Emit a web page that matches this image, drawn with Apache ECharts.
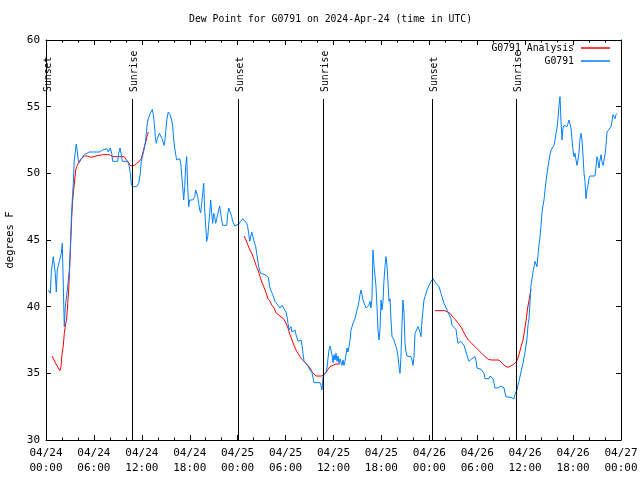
<!DOCTYPE html>
<html>
<head>
<meta charset="utf-8">
<script src="https://cdn.jsdelivr.net/npm/echarts@6/dist/echarts.min.js"></script>
<style>html,body{margin:0;padding:0;background:#fff}#c{width:640px;height:480px}</style>
</head>
<body>
<div id="c"></div>
<script>
// hours since 2024-04-24 00:00 UTC, dew point in degrees F
var obsData = [
[0.29,41.25],[0.54,41.0],[0.66,42.6],[0.91,43.75],[1.04,43.6],[1.16,42.5],[1.29,41.1],[1.41,42.75],[1.67,43.4],[1.92,44.0],[2.04,44.75],[2.17,41.5],[2.29,38.5],[2.42,40.0],[2.67,41.25],[2.92,42.75],[3.04,44.25],[3.17,46.5],[3.29,48.0],[3.42,49.25],[3.54,51.0],[3.67,51.1],[3.79,52.2],[3.92,51.6],[4.04,51.0],[4.17,50.8],[4.42,51.1],[4.80,51.4],[5.42,51.6],[5.85,51.6],[6.67,51.6],[6.80,51.5],[7.10,51.75],[7.30,51.9],[7.64,51.85],[7.80,51.6],[8.05,51.9],[8.23,51.5],[8.35,50.9],[8.98,50.9],[9.10,51.5],[9.27,51.9],[9.43,51.4],[9.55,50.9],[10.23,50.9],[10.43,50.5],[10.56,50.0],[10.68,49.25],[10.81,49.0],[11.36,49.0],[11.61,49.25],[11.81,50.0],[11.93,50.9],[12.18,51.5],[12.43,52.25],[12.56,53.0],[12.68,53.75],[12.81,54.1],[12.94,54.0],[13.06,54.5],[13.31,54.8],[13.44,54.4],[13.56,53.75],[13.69,52.75],[13.81,52.25],[13.94,52.6],[14.19,53.0],
[14.53,52.6],[14.78,52.1],[14.90,52.5],[15.03,53.4],[15.15,54.1],[15.31,54.6],[15.53,54.4],[15.74,54.0],[15.87,53.5],[15.99,52.5],[16.12,51.9],[16.24,51.4],[16.37,51.0],[16.49,50.9],[16.62,51.0],[16.74,51.1],[16.87,50.75],[16.99,49.9],[17.12,49.0],[17.24,48.0],[17.37,49.0],[17.49,50.5],[17.62,51.25],[17.74,49.0],[17.87,47.5],[17.99,48.0],[18.12,48.1],[18.37,48.0],[18.62,48.25],[18.75,48.75],[18.87,48.8],[19.00,48.25],[19.12,47.75],[19.25,47.25],[19.37,47.05],[19.50,47.75],[19.62,48.5],[19.75,49.25],[19.87,47.25],[20.00,46.0],[20.12,44.9],[20.25,45.25],[20.37,46.1],[20.50,47.0],[20.62,48.0],[20.75,47.0],[20.87,46.25],[21.00,47.0],[21.12,46.75],[21.25,46.25],[21.37,46.6],[21.50,46.9],[21.62,47.25],[21.75,47.55],[21.87,47.0],[22.00,46.5],[22.13,46.1],[22.63,46.1],[22.75,46.9],[22.88,47.4],[23.13,47.4],[23.25,46.75],[23.38,46.4],[23.63,46.05],[23.88,46.05],[24.13,46.2],[24.38,46.4],[24.63,46.6],[24.88,46.5],[25.13,46.25],[25.25,46.0],[25.38,45.5],[25.51,44.9],[25.63,45.25],[25.76,45.6],[25.88,45.5],[26.01,45.0],[26.26,44.5],[26.38,44.0],[26.51,43.5],[26.63,43.0],[26.88,42.5],[27.42,42.4],[27.84,42.2],[28.01,41.5],[28.14,41.25],[28.26,41.4],[28.39,40.9],
[28.55,40.9],[28.67,40.4],[29.05,40.1],[29.30,39.9],[29.55,40.1],[29.80,40.1],[30.05,39.6],[30.18,39.25],[30.30,38.75],[30.43,38.25],[30.55,38.4],[30.68,38.5],[30.80,38.1],[31.05,38.1],[31.18,38.25],[31.31,37.9],[31.56,37.4],[31.68,37.5],[31.81,37.25],[31.93,37.5],[32.06,37.1],[32.18,36.5],[32.31,35.9],[32.56,35.8],[32.81,35.55],[33.06,35.25],[33.31,35.05],[33.56,34.3],[33.81,34.2],[34.31,34.3],[34.43,34.1],[34.56,33.75],[34.69,34.7],[34.81,34.9],[34.94,35.0],[35.06,35.1],[35.19,35.4],[35.31,36.1],[35.44,36.75],[35.56,37.05],[35.69,36.75],[35.81,36.4],[35.94,35.8],[36.06,36.4],[36.19,36.0],[36.31,36.5],[36.44,35.9],[36.56,36.3],[36.69,35.75],[36.81,36.1],[36.94,36.0],[37.06,35.6],[37.19,36.0],[37.31,35.6],[37.44,35.9],[37.56,36.0],[37.69,36.9],[37.81,36.6],[37.94,37.0],[38.07,37.5],[38.19,38.25],[38.32,38.5],[38.44,38.75],[38.69,39.1],[38.94,39.75],[39.07,40.0],[39.19,40.4],[39.32,40.9],[39.44,41.25],[39.57,40.9],[39.69,40.5],[39.82,40.4],[39.94,40.1],[40.07,39.9],[40.32,39.9],[40.44,40.1],[40.57,40.4],[40.69,39.9],[40.82,40.6],[40.94,44.25],[41.07,43.1],[41.20,43.2],[41.32,41.5],[41.45,40.0],[41.57,38.25],[41.70,37.5],[41.82,38.25],[41.95,40.5],[42.07,39.75],[42.20,40.4],[42.32,42.0],[42.45,43.0],[42.57,43.75],[42.70,43.1],[42.83,41.75],[42.95,40.4],[43.08,40.6],[43.20,39.0],[43.33,37.75],[43.58,37.5],[43.70,37.25],[43.83,37.0],[43.95,36.75],[44.08,36.25],[44.20,35.5],[44.33,35.0],
[44.45,36.25],[44.58,38.75],[44.70,40.5],[44.83,39.5],[44.95,37.25],[45.08,36.6],[45.20,36.3],[45.71,36.25],[45.83,36.0],[45.96,35.6],[46.08,36.25],[46.21,38.0],[46.33,38.1],[46.46,38.1],[46.58,38.5],[46.71,38.6],[46.83,38.1],[46.96,37.75],[47.08,39.0],[47.21,39.75],[47.33,40.5],[47.46,40.75],[47.58,41.0],[47.71,41.25],[47.83,41.4],[47.96,41.6],[48.08,41.75],[48.21,41.9],[48.33,42.05],[48.46,42.1],[48.58,42.05],[48.71,41.95],[48.83,41.75],[49.08,41.7],[49.21,41.5],[49.34,41.25],[49.46,41.0],[49.59,40.75],[49.71,40.5],[49.84,40.25],[49.96,40.1],[50.09,39.9],[50.34,39.6],[50.59,39.5],[50.71,39.1],[50.84,38.6],[51.09,38.5],[51.34,38.3],[51.46,37.75],[51.59,37.25],[51.71,37.1],[51.96,37.4],[52.09,37.5],[52.34,37.1],[52.46,37.0],[52.59,36.6],[52.84,36.5],[52.96,35.9],[53.09,35.9],[53.34,36.1],[53.59,36.2],[53.71,36.25],[53.84,36.0],[53.97,35.4],[54.47,35.3],[54.72,35.3],[54.84,35.0],[54.97,34.6],[55.47,34.6],[55.60,34.8],[55.85,34.8],[55.97,34.6],[56.10,34.25],[56.22,33.9],[56.60,33.9],[56.85,33.95],[56.97,34.05],[57.22,34.1],[57.35,33.9],[57.47,33.55],[57.60,33.25],[58.10,33.2],[58.35,33.25],[58.60,33.1],[58.72,33.4],[58.85,33.5],[58.97,33.75],[59.10,34.1],[59.22,34.4],
[59.48,35.1],[59.73,35.75],[59.98,36.6],[60.23,37.6],[60.35,38.6],[60.48,39.1],[60.61,40.4],[60.73,41.6],[60.86,42.1],[60.98,42.6],[61.11,43.0],[61.23,43.4],[61.36,43.2],[61.48,43.0],[61.61,43.9],[61.73,44.6],[61.86,45.25],[61.99,46.1],[62.11,47.1],[62.24,47.6],[62.36,48.0],[62.49,48.75],[62.61,49.4],[62.74,50.0],[62.86,50.5],[62.99,51.0],[63.11,51.4],[63.24,51.75],[63.49,51.75],[63.61,52.1],[63.74,52.5],[63.86,53.0],[63.99,53.4],[64.11,54.1],[64.24,55.1],[64.36,55.75],[64.49,53.9],[64.61,52.5],[64.74,53.4],[64.86,53.6],[64.99,53.75],[65.24,53.5],[65.37,53.75],[65.49,54.0],[65.62,53.9],[65.74,53.4],[65.87,52.5],[65.99,51.75],[66.12,51.25],[66.24,51.5],[66.37,51.0],[66.49,50.6],[66.62,51.0],[66.74,51.6],[66.87,52.6],[66.99,53.0],[67.12,52.5],[67.24,51.4],[67.37,50.0],[67.49,49.4],[67.62,48.1],[67.74,48.75],[67.87,49.1],[67.99,49.6],[68.12,49.8],[68.75,49.8],[68.87,50.5],[69.00,51.25],[69.12,50.9],[69.25,50.4],[69.37,51.0],[69.50,51.4],[69.62,50.9],[69.75,50.6],[69.87,50.75],[70.00,51.4],[70.12,52.1],[70.25,53.1],[70.50,53.1],[70.75,53.5],[70.87,53.9],[71.00,54.4],[71.12,54.25],[71.25,54.1],[71.37,54.4],[71.50,54.5]
];
var analysisSeg1 = [[0.75,36.3],[1.0,36.0],[1.25,35.7],[1.5,35.45],[1.75,35.2],[1.88,35.5],[2.0,36.4],[2.17,37.1],[2.29,38.0],[2.42,38.5],[2.59,39.1],[2.72,40.25],[2.84,41.25],[2.97,43.0],[3.09,44.75],[3.22,46.75],[3.34,48.0],[3.47,48.75],[3.59,49.5],[3.72,50.25],[3.84,50.5],[3.97,50.6],[4.17,50.9],[4.42,51.1],[4.80,51.3],[5.22,51.3],[5.63,51.2],[6.26,51.3],[7.10,51.4],[7.93,51.4],[8.35,51.25],[9.80,51.25],[10.02,51.05],[10.36,50.8],[10.61,50.55],[10.77,50.45],[11.06,50.6],[11.36,50.75],[11.68,50.9],[11.93,51.1],[12.15,51.6],[12.36,52.1],[12.52,52.4],[12.65,52.75],[12.81,53.1]];
var analysisSeg2 = [[24.79,45.3],[25.04,45.0],[25.29,44.6],[25.54,44.25],[25.80,43.95],[26.05,43.55],[26.30,43.1],[26.55,42.75],[26.80,42.25],[27.05,41.8],[27.30,41.45],[27.55,41.05],[27.80,40.6],[28.05,40.4],[28.30,40.1],[28.55,39.9],[28.80,39.55],[29.05,39.4],[29.30,39.3],[29.55,39.2],[29.80,39.05],[30.05,38.75],[30.30,38.4],[30.55,37.9],[30.80,37.5],[31.05,37.1],[31.31,36.75],[31.56,36.5],[31.81,36.25],[32.06,36.05],[32.31,35.9],[32.56,35.75],[32.81,35.6],[33.06,35.4],[33.31,35.1],[33.56,34.95],[33.81,34.8],[34.56,34.8],[34.81,34.9],[35.06,35.05],[35.31,35.3],[35.56,35.5],[35.81,35.6],[36.31,35.7],[36.81,35.7]];
var analysisSeg3 = [[48.71,39.7],[49.96,39.7],[50.59,39.5],[50.84,39.3],[51.21,39.05],[51.63,38.75],[52.05,38.4],[52.46,37.9],[52.88,37.5],[53.30,37.25],[53.72,37.0],[54.13,36.75],[54.56,36.5],[54.97,36.25],[55.39,36.05],[55.81,36.0],[56.72,36.0],[57.14,35.75],[57.48,35.55],[57.85,35.45],[58.32,35.6],[58.73,35.75],[59.02,36.0],[59.23,36.4],[59.48,37.0],[59.73,37.5],[59.89,38.1],[60.10,38.9],[60.31,39.9],[60.52,40.6],[60.73,41.3]];
var sunTimes = [0.0, 10.8, 24.1, 34.7, 48.3, 58.8];
var sunLabels = ['Sunset','Sunrise','Sunset','Sunrise','Sunset','Sunrise'];
var xTickDates = ['04/24','04/24','04/24','04/24','04/25','04/25','04/25','04/25','04/26','04/26','04/26','04/26','04/27'];
var xTickTimes = ['00:00','06:00','12:00','18:00','00:00','06:00','12:00','18:00','00:00','06:00','12:00','18:00','00:00'];

var FONT = 'DejaVu Sans Mono';
var analysisData = analysisSeg1.concat([[18, null]], analysisSeg2, [[42, null]], analysisSeg3);

var chart = echarts.init(document.getElementById('c'), null, {renderer: 'canvas'});
var axisCommon = {
  type: 'value',
  axisLine: {show: true, onZero: false, lineStyle: {color: '#000', width: 1}},
  axisTick: {show: true, inside: true, length: 5, lineStyle: {color: '#000', width: 1}},
  splitLine: {show: false}
};
chart.setOption({
  animation: false,
  backgroundColor: '#fff',
  title: {
    text: 'Dew Point for G0791 on 2024-Apr-24 (time in UTC)',
    left: 189, top: 14, padding: 0,
    textStyle: {fontFamily: FONT, fontSize: 9.8, fontWeight: 'normal', color: '#000'}
  },
  legend: [
    {data: ['G0791 Analysis'], right: 30, top: 43, padding: 0, align: 'right', orient: 'vertical',
     itemWidth: 29, itemHeight: 1.5, icon: 'rect', selectedMode: false,
     textStyle: {fontFamily: FONT, fontSize: 9.8, color: '#000', padding: [0, 2, 0, 0]}},
    {data: ['G0791'], right: 30, top: 56, padding: 0, align: 'right', orient: 'vertical',
     itemWidth: 29, itemHeight: 1.5, icon: 'rect', selectedMode: false,
     textStyle: {fontFamily: FONT, fontSize: 9.8, color: '#000', padding: [0, 2, 0, 0]}}
  ],
  grid: {left: 46, right: 19, top: 40, bottom: 40, containLabel: false, outerBoundsMode: 'none'},
  xAxis: [
    Object.assign({}, axisCommon, {
      position: 'bottom', min: 0, max: 72, interval: 6,
      minorTick: {show: true, splitNumber: 3, length: 2.5, lineStyle: {color: '#000'}},
      axisLabel: {
        margin: 6, fontFamily: FONT, fontSize: 11, color: '#000', lineHeight: 15,
        formatter: function (v) { var i = Math.round(v / 6); return xTickDates[i] + '\n' + xTickTimes[i]; }
      }
    }),
    Object.assign({}, axisCommon, {
      position: 'top', min: 0, max: 72, interval: 6,
      minorTick: {show: true, splitNumber: 3, length: 2.5, lineStyle: {color: '#000'}},
      axisLabel: {show: false}
    })
  ],
  yAxis: [
    Object.assign({}, axisCommon, {
      position: 'left', min: 30, max: 60, interval: 5,
      name: 'degrees F', nameLocation: 'middle', nameGap: 30,
      nameTextStyle: {fontFamily: FONT, fontSize: 10.5, color: '#000'},
      axisLabel: {margin: 6, fontFamily: FONT, fontSize: 11, color: '#000'}
    }),
    Object.assign({}, axisCommon, {
      position: 'right', min: 30, max: 60, interval: 5,
      axisLabel: {show: false}
    })
  ],
  series: [
    {
      name: 'G0791 Analysis', type: 'line', data: analysisData, showSymbol: false, connectNulls: false,
      lineStyle: {color: '#ff0000', width: 1}, itemStyle: {color: '#ff0000'}, z: 2
    },
    {
      name: 'G0791', type: 'line', data: obsData, showSymbol: false,
      lineStyle: {color: '#0080ff', width: 1}, itemStyle: {color: '#0080ff'}, z: 3
    },
    {
      name: 'sun', type: 'custom', clip: false, z: 4,
      data: sunTimes.map(function (t, i) { return [t, 45, i]; }),
      encode: {x: 0, y: 1},
      renderItem: function (params, api) {
        var cs = params.coordSys;
        var x = Math.round(api.coord([api.value(0), 30])[0]) + 0.5;
        var top = cs.y + 59, bottom = cs.y + cs.height;
        return {
          type: 'group',
          children: [
            {type: 'line', shape: {x1: x, y1: top, x2: x, y2: bottom}, style: {stroke: '#000', lineWidth: 1}},
            {type: 'text', x: x + 1.5, y: top - 7, rotation: Math.PI / 2,
             style: {text: sunLabels[api.value(2)], fontFamily: FONT, fontSize: 9.8, fill: '#000', align: 'left', verticalAlign: 'middle'}}
          ]
        };
      }
    }
  ]
});
</script>
</body>
</html>
